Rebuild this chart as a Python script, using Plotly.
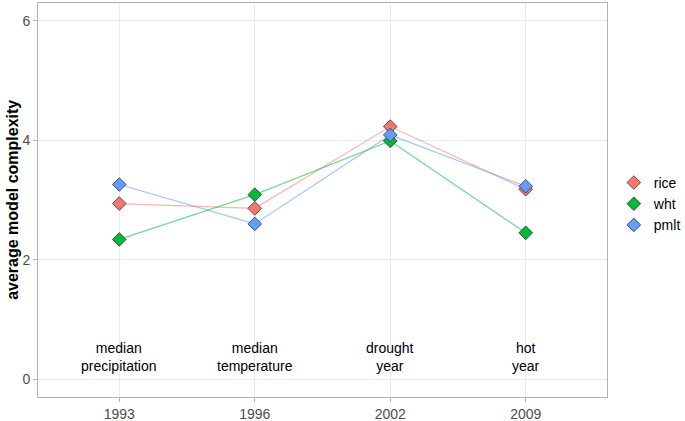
import plotly.graph_objects as go

years = ["1993", "1996", "2002", "2009"]
scenario_labels = ["median<br>precipitation", "median<br>temperature", "drought<br>year", "hot<br>year"]
rice = [2.94, 2.86, 4.23, 3.18]
wht = [2.34, 3.09, 3.99, 2.45]
pmlt = [3.26, 2.60, 4.09, 3.23]

series = [("rice", rice, "#F8766D", "rgba(248,118,109,0.55)"),
          ("wht", wht, "#00BA38", "rgba(0,186,56,0.55)"),
          ("pmlt", pmlt, "#619CFF", "rgba(97,156,255,0.6)")]

fig = go.Figure()
for name, vals, col, lcol in series:
    fig.add_trace(go.Scatter(x=years, y=vals, mode="lines", line=dict(color=lcol, width=1.2),
                             showlegend=False, hoverinfo="skip"))
for name, vals, col, lcol in series:
    fig.add_trace(go.Scatter(x=years, y=vals, mode="markers", name=name,
                             marker=dict(symbol="diamond", size=10.5, color=col,
                                         line=dict(color="#333333", width=0.8))))

for i, lab in enumerate(scenario_labels):
    fig.add_annotation(x=i, y=0.37, xref="x", yref="y", text=lab, showarrow=False,
                       font=dict(family="Liberation Sans, Arial", size=14, color="black"),
                       align="center")

fig.add_annotation(x=-0.046, y=0.5, xref="paper", yref="paper", text="<b>average model complexity</b>",
                   textangle=-90, showarrow=False, xanchor="center", yanchor="middle",
                   font=dict(family="Liberation Sans, Arial", size=16, color="black"))

fig.update_layout(
    width=685, height=421,
    margin=dict(l=38, r=78, t=3, b=24, autoexpand=False),
    paper_bgcolor="white", plot_bgcolor="white",
    font=dict(family="Liberation Sans, Arial", size=14, color="#4d4d4d"),
    legend=dict(x=1.012, y=0.49, yanchor="middle", xanchor="left", bgcolor="rgba(0,0,0,0)",
                font=dict(size=14, color="black"), tracegroupgap=0, itemwidth=30),
    xaxis=dict(type="category", range=[-0.6, 3.6], showgrid=True, gridcolor="#ebebeb", gridwidth=1,
               showline=True, linecolor="#b3b3b3", mirror=True, linewidth=1,
               ticks="outside", ticklen=4, tickcolor="#b3b3b3", automargin=False,
               tickfont=dict(size=14, color="#4d4d4d"), zeroline=False),
    yaxis=dict(range=[-0.3, 6.3], tickvals=[0, 2, 4, 6], showgrid=True, gridcolor="#ebebeb", gridwidth=1,
               showline=True, linecolor="#b3b3b3", mirror=True, linewidth=1,
               ticks="outside", ticklen=4, tickcolor="#b3b3b3", automargin=False,
               tickfont=dict(size=14, color="#4d4d4d"), zeroline=False),
)

fig.write_html("out.html", config={"displayModeBar": False},
               post_script="document.body.style.margin='0';")
